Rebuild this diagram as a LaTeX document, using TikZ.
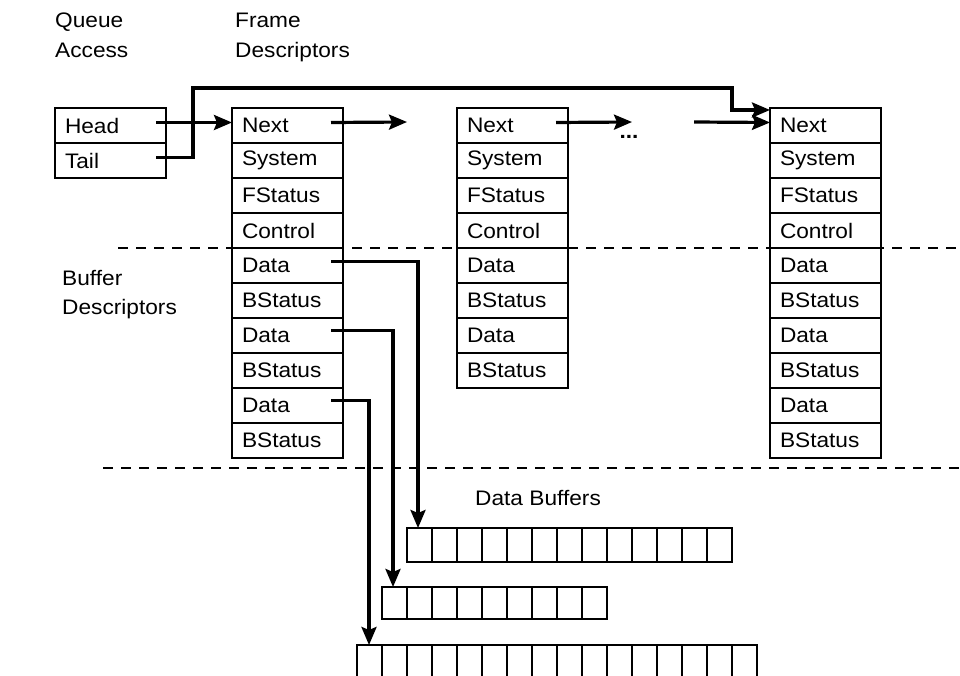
\documentclass[tikz,border=0pt]{standalone}
\usepackage{fontspec}
\setmainfont{Liberation Sans}[FakeStretch=1.08]
\usetikzlibrary{positioning,arrows.meta}

\begin{document}
\begin{tikzpicture}[x=1pt,y=-1pt,node distance=0pt,
        field/.style={draw, line width=2pt, outer sep=0pt, minimum height=35pt, text width=91pt, inner xsep=10pt, inner ysep=0pt, align=left, font=\fontsize{21}{24}\selectfont},
        heading/.style={inner sep=0pt, anchor=base west, font=\fontsize{21}{24}\selectfont},
        buffer/.style={draw, line width=2pt, outer sep=0pt, inner sep=0pt, anchor=north west},
        link/.style={line width=3.2pt, -{Stealth[length=18pt,width=15pt,inset=3pt]}},
        divider/.style={line width=1.6pt, dash pattern=on 10pt off 8pt}]
        \useasboundingbox (0,0) rectangle (960,676);
        \clip (0,0) rectangle (960,676);

        % section dividers
        \draw[divider] (118,248) -- (960,248);
        \draw[divider] (103,468) -- (960,468);

        % headings
        \node[heading] (queue-lbl) at (55,28) {Queue};
        \node[heading] (access-lbl) at (55,58) {Access};
        \node[heading] (frame-lbl) at (235,28) {Frame};
        \node[heading] (fdesc-lbl) at (235,58) {Descriptors};
        \node[heading] (buffer-lbl) at (62,285) {Buffer};
        \node[heading] (bdesc-lbl) at (62,314) {Descriptors};
        \node[heading] (dbuf-lbl) at (475,505) {Data Buffers};

        % queue access
        \node[field, anchor=north west] (head) at (55,108) {Head};
        \node[field, below=of head] (tail) {Tail};

        % frame 1
        \node[field, anchor=north west] (f1-next) at (232,108) {Next};
        \node[field, below=of f1-next] (f1-system) {System};
        \node[field, below=of f1-system] (f1-fstatus) {FStatus};
        \node[field, below=of f1-fstatus] (f1-control) {Control};
        \node[field, below=of f1-control] (f1-data1) {Data};
        \node[field, below=of f1-data1] (f1-bstatus1) {BStatus};
        \node[field, below=of f1-bstatus1] (f1-data2) {Data};
        \node[field, below=of f1-data2] (f1-bstatus2) {BStatus};
        \node[field, below=of f1-bstatus2] (f1-data3) {Data};
        \node[field, below=of f1-data3] (f1-bstatus3) {BStatus};

        % frame 2
        \node[field, anchor=north west] (f2-next) at (457,108) {Next};
        \node[field, below=of f2-next] (f2-system) {System};
        \node[field, below=of f2-system] (f2-fstatus) {FStatus};
        \node[field, below=of f2-fstatus] (f2-control) {Control};
        \node[field, below=of f2-control] (f2-data1) {Data};
        \node[field, below=of f2-data1] (f2-bstatus1) {BStatus};
        \node[field, below=of f2-bstatus1] (f2-data2) {Data};
        \node[field, below=of f2-data2] (f2-bstatus2) {BStatus};

        % last frame
        \node[field, anchor=north west] (f3-next) at (770,108) {Next};
        \node[field, below=of f3-next] (f3-system) {System};
        \node[field, below=of f3-system] (f3-fstatus) {FStatus};
        \node[field, below=of f3-fstatus] (f3-control) {Control};
        \node[field, below=of f3-control] (f3-data1) {Data};
        \node[field, below=of f3-data1] (f3-bstatus1) {BStatus};
        \node[field, below=of f3-bstatus1] (f3-data2) {Data};
        \node[field, below=of f3-data2] (f3-bstatus2) {BStatus};
        \node[field, below=of f3-bstatus2] (f3-data3) {Data};
        \node[field, below=of f3-data3] (f3-bstatus3) {BStatus};

        \node[heading, anchor=base, font=\fontsize{21}{24}\bfseries] (dots) at (629,139) {...};
        \coordinate (gap1) at (407,122);
        \coordinate (gap2) at (632,122);
        \coordinate (gap3) at (694,122);
        \coordinate (tail-up) at (193,88);

        % data buffers
        \node[buffer, minimum width=325pt, minimum height=34pt] (buf1) at (407,528) {};
        \node[buffer, minimum width=225pt, minimum height=32pt] (buf2) at (382,587) {};
        \node[buffer, minimum width=400pt, minimum height=40pt] (buf3) at (357,645) {};
        \foreach \k in {1,...,12}
            \draw[line width=2pt] ([xshift=\k*25pt]buf1.north west) -- ([xshift=\k*25pt]buf1.south west);
        \foreach \k in {1,...,8}
            \draw[line width=2pt] ([xshift=\k*25pt]buf2.north west) -- ([xshift=\k*25pt]buf2.south west);
        \foreach \k in {1,...,15}
            \draw[line width=2pt] ([xshift=\k*25pt]buf3.north west) -- ([xshift=\k*25pt]buf3.south west);

        \draw[link] ([xshift=-10pt,yshift=3pt]head.east) -- ([yshift=3pt]f1-next.west);
        \draw[link] ([xshift=-10pt,yshift=3pt]tail.east) -| (tail-up) -| ([xshift=-38pt,yshift=-2pt]f3-next.north west) -- ([yshift=-2pt]f3-next.north west);
        \draw[link] ([xshift=-12pt,yshift=3pt]f1-next.east) -- (gap1);
        \draw[link] ([xshift=-12pt,yshift=3pt]f2-next.east) -- (gap2);
        \draw[link] (gap3) -- ([yshift=3pt]f3-next.west);
        \draw[link] ([xshift=-12pt,yshift=4pt]f1-data1.east) -| ([xshift=11pt]buf1.north west);
        \draw[link] ([xshift=-12pt,yshift=5pt]f1-data2.east) -| ([xshift=11pt]buf2.north west);
        \draw[link] ([xshift=-12pt,yshift=5pt]f1-data3.east) -| ([xshift=12pt]buf3.north west);
    \end{tikzpicture}
\end{document}
